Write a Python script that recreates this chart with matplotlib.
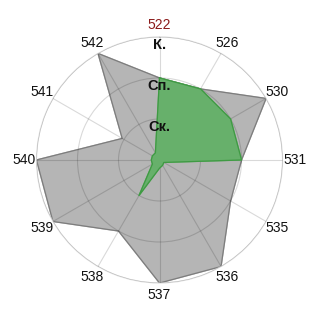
import numpy as np
import matplotlib
matplotlib.use('Agg')
from matplotlib import pyplot as plt

plt.rcParams['font.family'] = ['Liberation Sans', 'DejaVu Sans']

# axes (clockwise from top)
axes_names = ['522', '526', '530', '531', '535', '536', '537', '538', '539', '540', '541', '542']
# levels: 1 = Ск., 2 = Сп., 3 = К.
gray_vals = [2, 2, 3, 2, 2, 3, 3, 2, 3, 3, 1.05, 3]
green_vals = [2, 2, 2, 2, 0.12, 0.15, 0.2, 1.0, 0.2, 0.2, 0.2, 0.2]
level_names = ['Ск.', 'Сп.', 'К.']
level_vals = [1, 2, 3]

n = len(axes_names)
theta = np.linspace(0, 2 * np.pi, n, endpoint=False)
th = np.append(theta, theta[0])

fig = plt.figure(figsize=(3.2, 3.2), dpi=100)
ax = fig.add_axes([0.114, 0.1156, 0.769, 0.769], projection='polar')
ax.set_theta_offset(np.pi / 2)
ax.set_theta_direction(-1)
ax.set_ylim(0, 3)

g = np.append(gray_vals, gray_vals[0])
ax.fill(th, g, color='#b5b5b5', zorder=1)
ax.plot(th, g, color='#7d7d7d', lw=0.9, zorder=2)

gr = np.append(green_vals, green_vals[0])
ax.fill(th, gr, color='#67b06b', zorder=3)
ax.plot(th, gr, color='#3f9a43', lw=0.9, zorder=4)

ax.set_xticks(theta)
ax.set_xticklabels([])
ax.set_yticks(level_vals)
ax.set_yticklabels([])
ax.grid(True, color='black', alpha=0.15, lw=0.8)
ax.set_axisbelow(False)
for gl in ax.get_xgridlines() + ax.get_ygridlines():
    gl.set_zorder(5)
ax.spines['polar'].set_color('#dcdcdc')
ax.spines['polar'].set_linewidth(0.8)
ax.tick_params(length=0)

for t, name in zip(theta, axes_names):
    c = '#8b1a1a' if name == '522' else '#111111'
    ax.text(t, 3.3, name, ha='center', va='center', fontsize=10, color=c, clip_on=False)

for v, name in zip(level_vals, level_names):
    ax.text(0, v - 0.2, name, ha='center', va='center', fontsize=10.5,
            fontweight='bold', color='#111111', zorder=6)

fig.savefig('out.png', dpi=100)
